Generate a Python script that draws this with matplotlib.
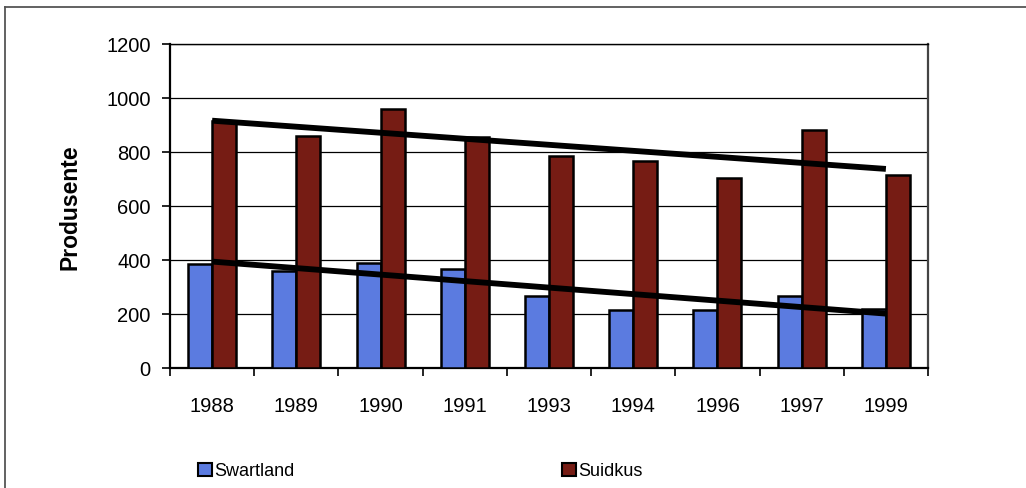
import numpy as np
import matplotlib.pyplot as plt
from matplotlib.patches import Patch
from matplotlib.lines import Line2D

plt.rcParams['font.family'] = ['Liberation Sans', 'DejaVu Sans']

# producer counts per year
years = ['1988', '1989', '1990', '1991', '1993', '1994', '1996', '1997', '1999']
swartland = [385, 360, 390, 365, 265, 215, 215, 265, 220]
suidkus = [915, 860, 960, 855, 785, 765, 705, 880, 715]
series_names = ['Swartland', 'Suidkus']

blue = '#5b7be0'
brown = '#761c14'

fig = plt.figure(figsize=(10.26, 4.89), dpi=100)
ax = fig.add_axes([170 / 1026, 1 - 369 / 489, 758 / 1026, 324 / 489])

x = np.arange(len(years))
w = 0.285
ax.bar(x - w / 2, swartland, width=w, color=blue, edgecolor='black', linewidth=1.8, zorder=3)
ax.bar(x + w / 2, suidkus, width=w, color=brown, edgecolor='black', linewidth=1.8, zorder=3)

# linear trend lines through each series
for vals in (swartland, suidkus):
    k, c = np.polyfit(x, vals, 1)
    ax.plot(x, k * x + c, color='black', lw=4.2, solid_capstyle='butt', zorder=4)

ax.set_xlim(-0.5, len(years) - 0.5)
ax.set_ylim(0, 1200)
ax.set_yticks(range(0, 1201, 200))
ax.yaxis.grid(True, color='black', lw=0.9, zorder=0)
ax.set_axisbelow(True)

ax.set_xticks(x)
ax.set_xticklabels(years, fontsize=14.5)
ax.set_xticks(np.arange(-0.5, len(years)), minor=True)
ax.tick_params(axis='x', which='major', length=0, pad=20)
ax.tick_params(axis='x', which='minor', length=6, width=1.2, direction='out')
ax.tick_params(axis='y', labelsize=14.5, length=6, width=1.2, pad=8)

for side in ('left', 'bottom'):
    ax.spines[side].set_linewidth(1.6)
    ax.spines[side].set_color('black')
ax.spines['top'].set_linewidth(1.0)
ax.spines['right'].set_linewidth(1.6)
ax.spines['right'].set_color('#444444')

ax.set_ylabel('Produsente', fontsize=16.5, fontweight='bold')
ax.yaxis.set_label_coords(-0.117, 0.5)

# legend entries, one per series
colors = [blue, brown]
anchors = [(198 / 1026, 1 - 472 / 489), (562 / 1026, 1 - 472 / 489)]
for name, col, anc in zip(series_names, colors, anchors):
    fig.legend(handles=[Patch(facecolor=col, edgecolor='black', linewidth=1.5)],
               labels=[name], loc='center left', bbox_to_anchor=anc,
               frameon=False, fontsize=13, handlelength=0.75, handleheight=0.75,
               handletextpad=0.15, borderpad=0, borderaxespad=0)

# outer chart border (left and top)
fig.add_artist(Line2D([5 / 1026, 5 / 1026], [0, 1 - 8 / 489], color='#555555', lw=1.3))
fig.add_artist(Line2D([5 / 1026, 1], [1 - 8 / 489, 1 - 8 / 489], color='#555555', lw=1.3))

fig.savefig('out.png', dpi=100)
